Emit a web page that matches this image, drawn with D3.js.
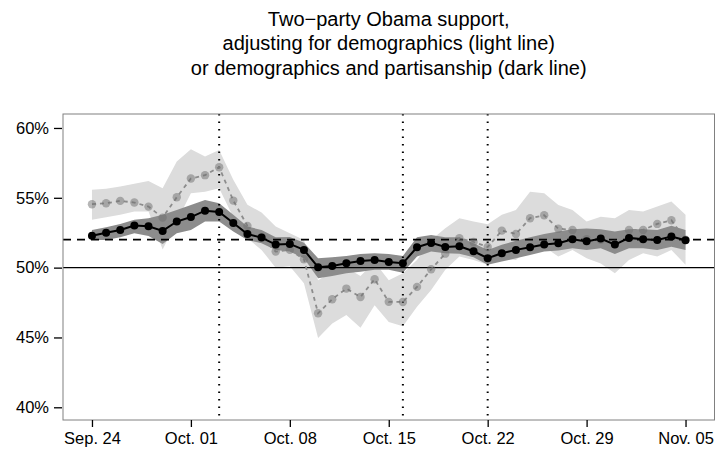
<!DOCTYPE html>
<html>
<head>
<meta charset="utf-8">
<script src="https://cdn.jsdelivr.net/npm/d3@7"></script>
<style>
  html, body { margin: 0; padding: 0; background: #fff; }
  svg { display: block; font-family: "Liberation Sans", Arial, Helvetica, sans-serif; }
</style>
</head>
<body>
<svg id="chart" width="716" height="450"></svg>
<script>
// Daily poll estimates, Sep 24 – Nov 05, 2012 (percent two-party Obama support)
const startDate = new Date(Date.UTC(2012, 8, 24));
const dayCount = 43;

// Adjusted for demographics and partisanship (dark line)
const partisanEst = [
  52.29, 52.49, 52.70, 53.01, 52.96, 52.63, 53.30, 53.62, 54.08, 53.99,
  53.20, 52.41, 52.15, 51.65, 51.70, 51.27, 50.03, 50.12, 50.31, 50.48,
  50.55, 50.40, 50.31, 51.46, 51.77, 51.48, 51.53, 51.17, 50.68, 51.03,
  51.27, 51.46, 51.65, 51.75, 52.03, 51.88, 52.08, 51.65, 52.13, 52.03,
  51.98, 52.22, 51.96
];
const partisanLo = [
  51.98, 51.98, 52.18, 52.46, 52.27, 51.70, 52.46, 52.70, 53.30, 53.30,
  52.58, 51.98, 51.75, 51.27, 51.15, 50.67, 49.24, 49.40, 49.60, 49.71,
  49.84, 49.84, 49.64, 50.79, 51.15, 51.03, 51.00, 50.74, 50.20, 50.43,
  50.67, 50.91, 51.15, 51.22, 51.39, 51.27, 51.39, 50.98, 51.39, 51.39,
  51.27, 51.50, 51.27
];
const partisanHi = [
  52.70, 52.89, 53.13, 53.42, 53.54, 53.78, 54.13, 54.49, 54.85, 54.61,
  53.78, 52.94, 52.70, 52.18, 52.20, 51.79, 50.67, 50.74, 50.84, 50.98,
  51.03, 50.98, 50.84, 52.18, 52.34, 52.18, 52.18, 51.75, 51.27, 51.63,
  51.93, 52.18, 52.41, 52.58, 52.75, 52.80, 52.75, 52.58, 52.75, 52.75,
  52.70, 52.99, 52.70
];

// Adjusted for demographics only (light line)
const demoEst = [
  54.54, 54.61, 54.78, 54.66, 54.37, 53.58, 55.04, 56.38, 56.62, 57.19,
  54.80, 52.99, 52.18, 51.15, 51.27, 50.60, 46.73, 47.74, 48.50, 47.90,
  49.17, 47.55, 47.54, 48.62, 49.88, 51.00, 52.10, 51.84, 51.48, 52.65,
  52.41, 53.54, 53.75, 52.79, 52.70, 52.03, 52.00, 51.70, 52.70, 52.70,
  53.13, 53.39, 52.00
];
const demoLo = [
  53.42, 53.61, 53.78, 54.01, 54.01, 51.30, 53.30, 55.33, 55.44, 55.69,
  53.60, 52.10, 51.27, 50.00, 50.10, 48.88, 44.96, 46.00, 46.60, 45.70,
  47.30, 46.10, 45.80, 47.20, 48.40, 49.84, 50.79, 50.55, 50.20, 50.67,
  50.55, 51.39, 51.50, 50.79, 51.27, 50.67, 50.30, 49.60, 50.55, 51.03,
  50.79, 51.27, 50.20
];
const demoHi = [
  55.57, 55.64, 55.80, 56.00, 56.21, 55.69, 57.60, 58.48, 57.95, 58.43,
  56.30, 54.50, 53.95, 52.95, 52.46, 51.98, 49.10, 49.70, 50.00, 49.40,
  50.40, 49.10, 49.60, 50.55, 51.98, 52.82, 53.54, 53.30, 53.10, 53.78,
  54.13, 55.44, 55.33, 54.49, 54.13, 53.30, 53.65, 53.54, 54.13, 54.01,
  54.37, 54.73, 53.78
];

// Axis ticks
const xTickOffsets = [0, 7, 14, 21, 28, 35, 42];
const xTickLabels = ["Sep. 24", "Oct. 01", "Oct. 08", "Oct. 15", "Oct. 22", "Oct. 29", "Nov. 05"];
const yTicks = [40, 45, 50, 55, 60];
const yTickLabels = ["40%", "45%", "50%", "55%", "60%"];

// Debate dates (day offsets from Sep 24) and reference levels
const debateOffsets = [9, 22, 28];
const evenLine = 50;
const resultLine = 52;

const titleLines = [
  "Two\u2212party Obama support,",
  "adjusting for demographics (light line)",
  "or demographics and partisanship (dark line)"
];

const DAY = 86400000;
const dayDate = k => new Date(startDate.getTime() + k * DAY);

const rows = d3.range(dayCount).map(i => ({
  date: dayDate(i),
  p: partisanEst[i], pLo: partisanLo[i], pHi: partisanHi[i],
  d: demoEst[i], dLo: demoLo[i], dHi: demoHi[i]
}));

const panel = { left: 63, right: 714.5, top: 114, bottom: 420 };

const x = d3.scaleUtc()
  .domain([dayDate(-2.05), dayDate(42 + 2.05)])
  .range([panel.left, panel.right]);
const y = d3.scaleLinear()
  .domain([39.09, 61.0])
  .range([panel.bottom, panel.top]);

const svg = d3.select("#chart");

// Title
svg.append("g")
  .selectAll("text")
  .data(titleLines)
  .join("text")
  .attr("x", (panel.left + panel.right) / 2)
  .attr("y", (d, i) => 25.5 + i * 24.5)
  .attr("text-anchor", "middle")
  .attr("font-size", 20)
  .attr("fill", "#000")
  .text(d => d);

const plot = svg.append("g");

// Uncertainty ribbons
const areaOf = (lo, hi) => d3.area()
  .x(d => x(d.date))
  .y0(d => y(d[lo]))
  .y1(d => y(d[hi]));

plot.append("path")
  .datum(rows)
  .attr("d", areaOf("dLo", "dHi"))
  .attr("fill", "#dcdcdc");

plot.append("path")
  .datum(rows)
  .attr("d", areaOf("pLo", "pHi"))
  .attr("fill", "#8c8c8c");

// Reference lines
plot.append("line")
  .attr("x1", panel.left).attr("x2", panel.right)
  .attr("y1", y(evenLine)).attr("y2", y(evenLine))
  .attr("stroke", "#000").attr("stroke-width", 1.4);

plot.append("line")
  .attr("x1", panel.left).attr("x2", panel.right)
  .attr("y1", y(resultLine)).attr("y2", y(resultLine))
  .attr("stroke", "#000").attr("stroke-width", 1.8)
  .attr("stroke-dasharray", "8,6");

plot.selectAll("line.debate")
  .data(debateOffsets)
  .join("line")
  .attr("class", "debate")
  .attr("x1", d => x(dayDate(d))).attr("x2", d => x(dayDate(d)))
  .attr("y1", panel.top).attr("y2", panel.bottom)
  .attr("stroke", "#000").attr("stroke-width", 2)
  .attr("stroke-dasharray", "1.6,5.9");

// Demographics-only estimate: dashed grey line with translucent points
plot.append("path")
  .datum(rows)
  .attr("d", d3.line().x(d => x(d.date)).y(d => y(d.d)))
  .attr("fill", "none")
  .attr("stroke", "#8c8c8c")
  .attr("stroke-width", 1.8)
  .attr("stroke-dasharray", "4,4");

plot.selectAll("circle.demo")
  .data(rows)
  .join("circle")
  .attr("class", "demo")
  .attr("cx", d => x(d.date))
  .attr("cy", d => y(d.d))
  .attr("r", 4.2)
  .attr("fill", "#6e6e6e")
  .attr("fill-opacity", 0.5);

// Partisanship-adjusted estimate: solid black line with points
plot.append("path")
  .datum(rows)
  .attr("d", d3.line().x(d => x(d.date)).y(d => y(d.p)))
  .attr("fill", "none")
  .attr("stroke", "#000")
  .attr("stroke-width", 2);

plot.selectAll("circle.part")
  .data(rows)
  .join("circle")
  .attr("class", "part")
  .attr("cx", d => x(d.date))
  .attr("cy", d => y(d.p))
  .attr("r", 4)
  .attr("fill", "#000");

// Panel border
svg.append("rect")
  .attr("x", panel.left).attr("y", panel.top)
  .attr("width", panel.right - panel.left)
  .attr("height", panel.bottom - panel.top)
  .attr("fill", "none")
  .attr("stroke", "#808080")
  .attr("stroke-width", 1);

// Axes
const xAxis = d3.axisBottom(x)
  .tickValues(xTickOffsets.map(dayDate))
  .tickFormat((d, i) => xTickLabels[i])
  .tickSize(7)
  .tickPadding(5);
const gx = svg.append("g")
  .attr("transform", `translate(0,${panel.bottom})`)
  .call(xAxis);

const yAxis = d3.axisLeft(y)
  .tickValues(yTicks)
  .tickFormat((d, i) => yTickLabels[i])
  .tickSize(8)
  .tickPadding(5);
const gy = svg.append("g")
  .attr("transform", `translate(${panel.left - 1},0)`)
  .call(yAxis);

[gx, gy].forEach(g => {
  g.select(".domain").remove();
  g.selectAll(".tick line").attr("stroke", "#000").attr("stroke-width", 1.3);
  g.selectAll(".tick text")
    .attr("fill", "#000")
    .attr("font-size", 16.5)
    .attr("font-family", "'Liberation Sans', Arial, Helvetica, sans-serif");
});
</script>
</body>
</html>
